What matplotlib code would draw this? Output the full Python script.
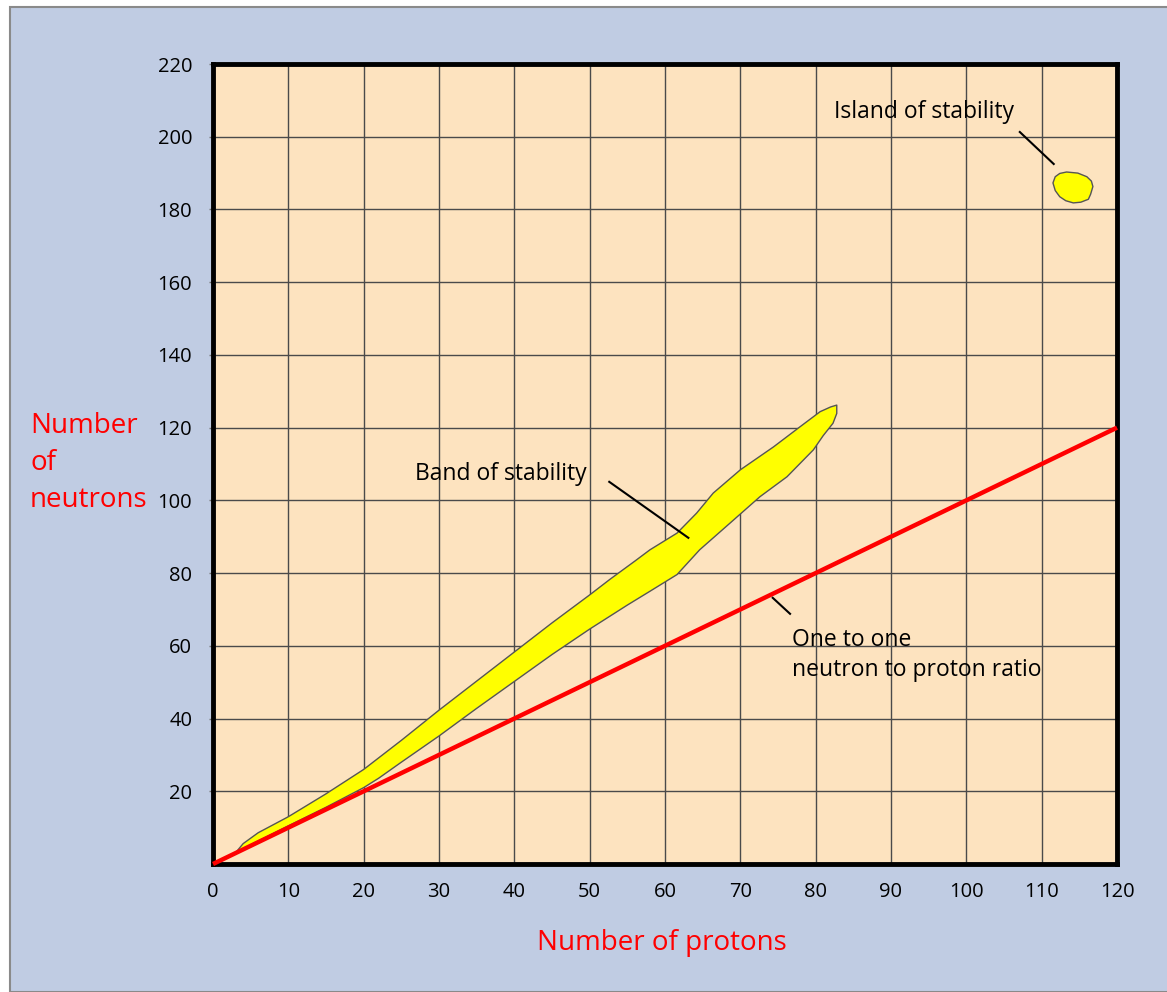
import numpy as np
import matplotlib.pyplot as plt
from matplotlib.patches import Polygon, Rectangle

# === Data ===
x_ticks = list(range(0, 121, 10))
y_ticks = list(range(20, 221, 20))

# band of stability outline: upper edge (left -> tip), then lower edge (tip -> left)
band_upper_x = [2.8, 4.0, 6.0, 10.0, 15.0, 20.0, 25.0, 30.0, 35.0, 40.0, 45.0, 50.0, 52.7, 56.0, 58.0, 61.6, 64.2, 66.4, 70.0, 74.4, 77.9, 80.6, 82.0, 82.8]
band_upper_y = [2.6, 5.6, 8.6, 13.0, 19.3, 26.0, 34.0, 42.3, 50.3, 58.3, 66.3, 74.0, 78.3, 83.3, 86.4, 91.0, 96.5, 102.0, 108.4, 114.7, 120.2, 124.4, 125.7, 126.2]
band_lower_x = [82.8, 82.3, 81.0, 79.7, 76.2, 72.6, 69.1, 64.6, 61.6, 58.0, 55.0, 50.0, 45.0, 40.0, 35.0, 30.0, 25.0, 22.0, 20.0, 15.0, 10.0, 5.0, 3.0]
band_lower_y = [123.9, 121.2, 117.8, 113.9, 106.5, 101.0, 94.6, 86.4, 79.6, 75.0, 71.2, 64.6, 57.6, 50.2, 42.8, 35.2, 28.0, 23.6, 21.0, 15.6, 10.5, 5.3, 3.2]

# island of stability outline
island_x = [111.8, 112.4, 113.3, 114.8, 116.0, 116.6, 116.8, 116.5, 116.2, 115.2, 114.2, 113.2, 112.4, 111.8, 111.5]
island_y = [189.0, 189.9, 190.3, 190.0, 189.0, 187.8, 186.3, 184.2, 182.8, 182.0, 181.8, 182.4, 183.5, 185.2, 187.3]

# one to one line
ratio_x = [0, 120]
ratio_y = [0, 120]

FONT = ['Open Sans', 'DejaVu Sans']
plt.rcParams['font.family'] = FONT

fig = plt.figure(figsize=(11.67, 9.92), dpi=100)
fig.patch.set_facecolor('white')

# light blue panel with grey frame behind everything
fig.patches.append(Rectangle((10 / 1167, 0), 1.2, (992 - 7) / 992, transform=fig.transFigure,
                             facecolor='#C0CCE3', edgecolor='#8A8A8A', linewidth=1.5, zorder=-10))

ax = fig.add_axes([213 / 1167, (992 - 864) / 992, (1117 - 213) / 1167, (864 - 64) / 992])
ax.set_facecolor('#FDE3BF')
ax.set_xlim(0, 120)
ax.set_ylim(0, 220)

ax.set_xticks(x_ticks)
ax.set_yticks(y_ticks)
ax.grid(True, color='#4A4A4A', linewidth=1.0)
ax.set_axisbelow(True)
ax.tick_params(axis='x', length=0, pad=13, labelsize=14.5)
ax.tick_params(axis='y', length=3, width=1, color='#777777', pad=12, labelsize=14.5)
for s in ax.spines.values():
    s.set_linewidth(3.5)
    s.set_color('black')

# band of stability
band_pts = np.column_stack([band_upper_x + band_lower_x, band_upper_y + band_lower_y])
ax.add_patch(Polygon(band_pts, closed=True, facecolor='#FFFF00', edgecolor='#555555', linewidth=1.0,
                     joinstyle='round', zorder=3))

# island of stability
island_pts = np.column_stack([island_x, island_y])
ax.add_patch(Polygon(island_pts, closed=True, facecolor='#FFFF00', edgecolor='#555555', linewidth=1.0,
                     joinstyle='round', zorder=3))

# 1:1 line
ax.plot(ratio_x, ratio_y, color='#FF0000', linewidth=3.2, zorder=4, clip_on=False, solid_capstyle='butt')

# annotations
ax.text(94.4, 206.8, 'Island of stability', ha='center', va='center', fontsize=16.5, zorder=5)
ax.plot([107.1, 111.6], [201.3, 192.5], color='black', linewidth=1.5, zorder=5)

ax.text(26.8, 107.3, 'Band of stability', ha='left', va='center', fontsize=16.5, zorder=5)
ax.plot([52.6, 63.1], [105.1, 89.7], color='black', linewidth=1.5, zorder=5)

ax.text(76.9, 64.8, 'One to one\nneutron to proton ratio', ha='left', va='top', fontsize=16.5,
        linespacing=1.3, zorder=5)
ax.plot([74.3, 76.6], [73.2, 68.8], color='black', linewidth=1.5, zorder=5)

# axis titles
fig.text(662 / 1167, 1 - 943 / 992, 'Number of protons', color='#FF0000', fontsize=20, ha='center', va='center')
fig.text(30 / 1167, 1 - 463 / 992, 'Number\nof\nneutrons', color='#FF0000', fontsize=20, ha='left', va='center',
         linespacing=1.45)

fig.savefig('out.png', dpi=100, facecolor=fig.get_facecolor())
